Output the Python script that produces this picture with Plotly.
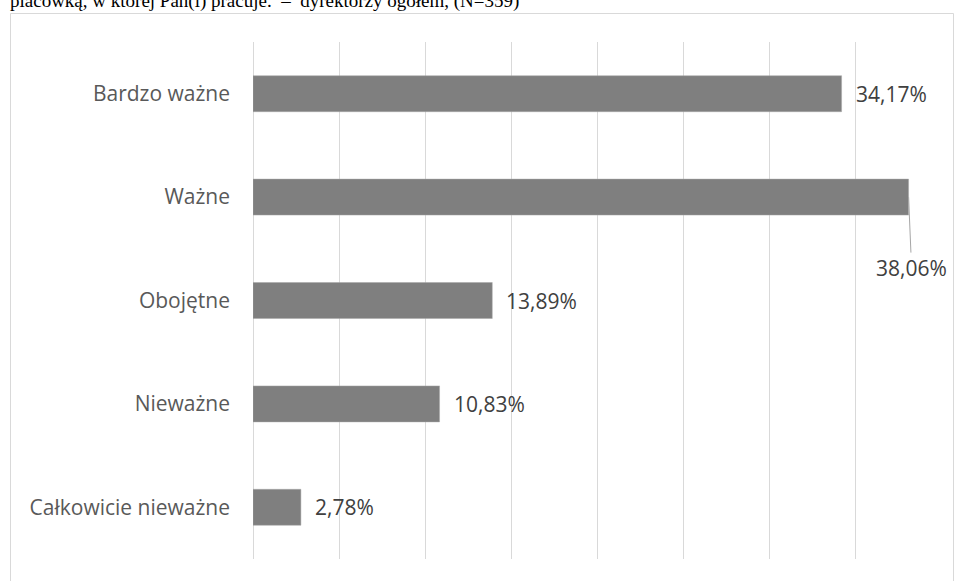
import plotly.graph_objects as go

categories = ["Bardzo ważne", "Ważne", "Obojętne", "Nieważne", "Całkowicie nieważne"]
values = [34.17, 38.06, 13.89, 10.83, 2.78]
heading = "placówką, w której Pan(i) pracuje.  –  dyrektorzy ogółem, (N=359)"

W, H = 956, 581
L, R, T, B = 253, 14, 42, 22
pw, ph = W - L - R, H - T - B

def px_x(p):
    return (p - L) / pw

def px_y(p):
    return (H - B - p) / ph

labels = [f"{v:.2f}".replace(".", ",") + "%" for v in values]

fig = go.Figure(go.Bar(
    x=values, y=categories, orientation="h",
    marker=dict(color="#7f7f7f", line=dict(color="#a6a6a6", width=0.5)),
    hoverinfo="skip",
))

annotations = []
for c, v, lab in zip(categories, values, labels):
    if c == "Ważne":
        annotations.append(dict(
            x=v, y=c, xref="x", yref="y", text=lab, showarrow=True,
            arrowhead=0, arrowwidth=1, arrowcolor="#a6a6a6",
            ax=3, ay=71, standoff=0,
            font=dict(family="Open Sans", size=21, color="#404040"),
        ))
    else:
        annotations.append(dict(
            x=v, y=c, xref="x", yref="y", text=lab, showarrow=False,
            xanchor="left", xshift=12,
            font=dict(family="Open Sans", size=21, color="#404040"),
        ))

annotations.append(dict(
    x=px_x(8), y=px_y(14), xref="paper", yref="paper", text=heading,
    showarrow=False, xanchor="left", yanchor="bottom",
    font=dict(family="Liberation Serif", size=19, color="#000000"),
))

fig.update_layout(
    width=W, height=H,
    margin=dict(l=L, r=R, t=T, b=B, pad=0),
    paper_bgcolor="white", plot_bgcolor="white",
    showlegend=False,
    bargap=0.652,
    annotations=annotations,
    shapes=[dict(
        type="rect", xref="paper", yref="paper",
        x0=px_x(10.5), x1=px_x(953.5), y0=px_y(620), y1=px_y(13.5),
        line=dict(color="#d9d9d9", width=1), fillcolor="rgba(0,0,0,0)",
        layer="below",
    )],
    xaxis=dict(
        range=[0, 40], dtick=5, showticklabels=False,
        showgrid=True, gridcolor="#d9d9d9", gridwidth=1,
        zeroline=True, zerolinecolor="#d9d9d9", zerolinewidth=1,
        showline=False, fixedrange=True,
    ),
    yaxis=dict(
        categoryorder="array", categoryarray=categories, autorange="reversed",
        showgrid=False, zeroline=False, showline=False,
        ticks="", ticklabelstandoff=22,
        tickfont=dict(family="Open Sans", size=21, color="#595959"),
        fixedrange=True,
    ),
)

fig.write_html("out.html")
